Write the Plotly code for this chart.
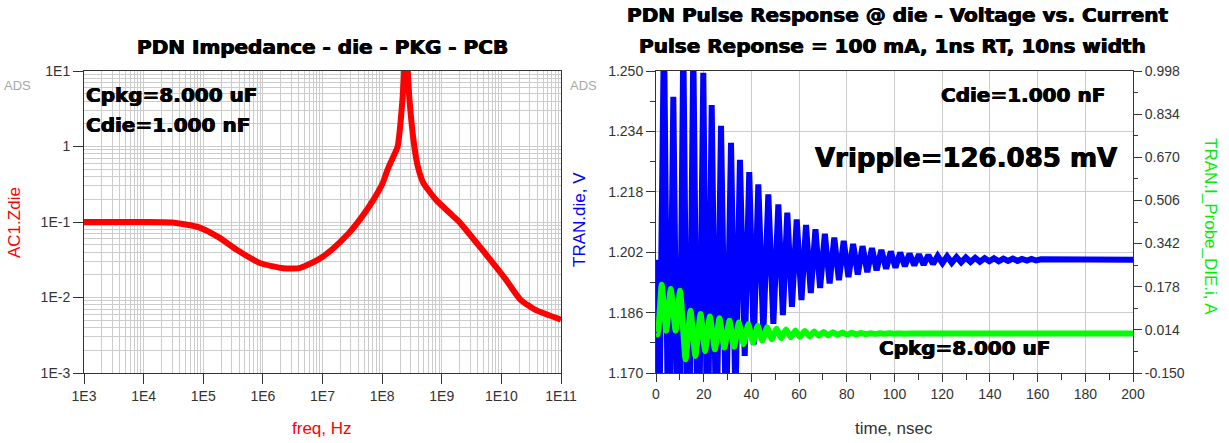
import plotly.graph_objects as go

# ---------------- data ----------------
# Left: PDN impedance |Z| at die vs frequency
red_f = [1e3, 1e4, 3.0e4, 8.5e4, 1.8e5, 3.7e5, 9.1e5, 2.2e6, 4.0e6, 8.3e6, 1.41e7, 2.75e7,
         4.57e7, 7.08e7, 1.02e8, 1.23e8, 1.45e8, 1.82e8, 2.19e8, 2.34e8, 2.51e8, 2.69e8, 2.88e8,
         3.47e8, 3.98e8, 4.9e8, 6.3e8, 8.1e8, 1.58e9, 1.95e9, 4.8e9, 1.15e10, 2.1e10, 3.8e10, 1e11]
red_z = [0.1, 0.1, 0.0985, 0.085, 0.063, 0.0426, 0.0284, 0.0244, 0.0245, 0.0314, 0.0426, 0.071,
         0.117, 0.195, 0.326, 0.49, 0.66, 1.0, 4.1, 10.0, 30.0, 10.0, 4.1,
         1.0, 0.54, 0.33, 0.25, 0.195, 0.118, 0.101, 0.0426, 0.0179, 0.0093, 0.0068, 0.0051]

# Right: die voltage (V) - successive peaks / troughs
blue_pts = [
    (0.0, 1.2000), (1.2, 1.145), (3.35, 1.262), (5.3, 1.135), (7.26, 1.2432), (9.4, 1.125),
    (11.45, 1.258), (13.5, 1.125), (15.64, 1.256), (17.7, 1.132), (19.83, 1.2495), (21.6, 1.140),
    (23.35, 1.2410), (25.3, 1.148), (27.25, 1.2355), (29.35, 1.155), (31.45, 1.2310), (33.3, 1.162),
    (35.2, 1.2265), (37.2, 1.1745), (39.1, 1.2232), (41.0, 1.1775), (42.9, 1.2200), (45.0, 1.1805),
    (47.1, 1.2173), (49.2, 1.1830), (51.3, 1.2147), (53.2, 1.1853), (55.05, 1.2125), (57.0, 1.1875),
    (59.0, 1.2107), (61.0, 1.1893), (62.9, 1.2092), (64.9, 1.1912), (66.85, 1.2081), (68.8, 1.1925),
    (70.8, 1.2069), (72.8, 1.1937), (74.75, 1.2059), (76.7, 1.1946), (78.7, 1.2050), (80.7, 1.1954),
    (82.65, 1.2042), (84.6, 1.1961), (86.6, 1.2036), (88.6, 1.1967), (90.55, 1.2031), (92.5, 1.1972),
    (94.5, 1.2026), (96.5, 1.1976), (98.45, 1.2022), (100.4, 1.1979), (102.4, 1.2019), (104.35, 1.1983),
    (106.3, 1.2016), (108.3, 1.1985), (110.25, 1.2014), (112.2, 1.1987), (114.2, 1.2012), (116.15, 1.1989),
    (118.1, 1.2010), (120.1, 1.1991), (122.05, 1.2009), (124.0, 1.1992), (126.0, 1.2007), (127.95, 1.1993),
    (129.9, 1.2006), (131.9, 1.1994), (133.85, 1.2005), (135.8, 1.1995), (137.8, 1.2004), (139.75, 1.1996),
    (141.7, 1.2004), (143.7, 1.1996), (145.65, 1.2003), (147.6, 1.1997), (149.6, 1.2003), (151.55, 1.1997),
    (153.5, 1.2002), (155.5, 1.1998), (157.45, 1.2002), (159.4, 1.1998), (161.4, 1.2001), (170.0, 1.2000),
    (200.0, 1.2000),
]
blue_t = [p[0] for p in blue_pts]
blue_v = [p[1] for p in blue_pts]

# Right: die probe current (A) - successive peaks / troughs
green_pts = [
    (0.0, 0.000), (0.7, -0.004), (2.4, 0.185), (4.3, 0.011), (6.2, 0.169), (8.2, 0.011), (10.1, 0.163),
    (12.4, -0.098), (14.5, 0.087), (16.5, -0.085), (18.7, 0.074), (20.6, -0.066), (22.6, 0.065),
    (24.7, -0.060), (26.6, 0.058), (28.7, -0.053), (30.8, 0.0485), (32.8, -0.050), (34.75, 0.042),
    (36.7, -0.0405), (38.7, 0.0355), (40.7, -0.034), (42.65, 0.0295), (44.6, -0.0275), (46.6, 0.024),
    (48.6, -0.022), (50.55, 0.0185), (52.5, -0.018), (54.5, 0.015), (56.5, -0.0145), (58.45, 0.012),
    (60.4, -0.0125), (62.4, 0.0095), (64.4, -0.010), (66.3, 0.0075), (68.3, -0.008), (70.25, 0.006),
    (72.2, -0.0065), (74.2, 0.0045), (76.2, -0.005), (78.1, 0.0035), (80.1, -0.004), (82.05, 0.0027),
    (84.0, -0.003), (86.0, 0.002), (88.0, -0.0022), (89.9, 0.0015), (91.9, -0.0016), (93.85, 0.001),
    (95.8, -0.0011), (97.8, 0.0007), (99.8, -0.0007), (101.7, 0.0004), (103.7, -0.0004), (110.0, 0.0),
    (200.0, 0.0),
]
green_t = [p[0] for p in green_pts]
green_i = [p[1] for p in green_pts]

# tick definitions
zx_vals = [1e3, 1e4, 1e5, 1e6, 1e7, 1e8, 1e9, 1e10, 1e11]
zx_text = ["1E3", "1E4", "1E5", "1E6", "1E7", "1E8", "1E9", "1E10", "1E11"]
zy_vals = [1e-3, 1e-2, 1e-1, 1, 10]
zy_text = ["1E-3", "1E-2", "1E-1", "1", "1E1"]
zx_minor = [m * 10 ** d for d in range(3, 11) for m in range(2, 10)]
zy_minor = [m * 10.0 ** d for d in range(-3, 1) for m in range(2, 10)]

t_vals = [0, 20, 40, 60, 80, 100, 120, 140, 160, 180, 200]
t_minor = [10, 30, 50, 70, 90, 110, 130, 150, 170, 190]
v_vals = [1.170, 1.186, 1.202, 1.218, 1.234, 1.250]
v_minor = [1.178, 1.194, 1.210, 1.226, 1.242]
i_vals = [-0.150, 0.014, 0.178, 0.342, 0.506, 0.670, 0.834, 0.998]
i_minor = [-0.068, 0.096, 0.260, 0.424, 0.588, 0.752, 0.916]

# ---------------- layout helpers ----------------
W, H = 1229, 443
def px(x):
    return x / W
def py(y):
    return 1 - y / H

AX = "#333333"
GRID = "#cccccc"
TICKFONT = dict(family="Liberation Sans, Arial, sans-serif", size=14, color="#333333")
BOLD = dict(family="DejaVu Sans, sans-serif", size=20, color="black", weight="bold",
            shadow="0.5px 0px 0px #000, -0.5px 0px 0px #000")

fig = go.Figure()
fig.add_trace(go.Scatter(x=red_f, y=red_z, mode="lines", xaxis="x", yaxis="y",
                         line=dict(color="#ff0000", width=6, shape="spline", smoothing=0.5),
                         showlegend=False, hoverinfo="skip"))
fig.add_trace(go.Scatter(x=blue_t, y=blue_v, mode="lines", xaxis="x2", yaxis="y2",
                         line=dict(color="#0000ff", width=6, shape="linear"),
                         showlegend=False, hoverinfo="skip"))
fig.add_trace(go.Scatter(x=green_t, y=green_i, mode="lines", xaxis="x2", yaxis="y3",
                         line=dict(color="#00ff00", width=6, shape="spline", smoothing=0.4),
                         showlegend=False, hoverinfo="skip"))

ydom = [py(373), py(71)]
common = dict(showline=True, linecolor=AX, linewidth=1, tickcolor=AX, tickfont=TICKFONT,
              zeroline=False, fixedrange=True, ticks="outside", automargin=False)

fig.update_layout(
    width=W, height=H, margin=dict(l=0, r=0, t=0, b=0, autoexpand=False),
    paper_bgcolor="white", plot_bgcolor="white", showlegend=False,
    xaxis=dict(type="log", domain=[px(84), px(561)], range=[3, 11], anchor="y",
               tickmode="array", tickvals=zx_vals, ticktext=zx_text, ticklen=10,
               mirror=True, showgrid=True, gridcolor=GRID, gridwidth=1,
               minor=dict(tickvals=zx_minor, showgrid=True, gridcolor=GRID, ticks=""), **common),
    yaxis=dict(type="log", domain=ydom, range=[-3, 1], anchor="x",
               tickmode="array", tickvals=zy_vals, ticktext=zy_text, ticklen=10,
               mirror=True, showgrid=True, gridcolor=GRID, gridwidth=1,
               minor=dict(tickvals=zy_minor, showgrid=True, gridcolor=GRID, ticks=""), **common),
    xaxis2=dict(domain=[px(656), px(1133)], range=[0, 200], anchor="y2",
                tickmode="array", tickvals=t_vals, ticktext=[str(v) for v in t_vals], ticklen=8,
                mirror=True, showgrid=True, gridcolor=GRID,
                minor=dict(tickvals=t_minor, ticks="outside", ticklen=6, tickcolor=AX, showgrid=False),
                **common),
    yaxis2=dict(domain=ydom, range=[1.170, 1.250], anchor="x2",
                tickmode="array", tickvals=v_vals, ticktext=["%.3f" % v for v in v_vals], ticklen=9,
                showgrid=True, gridcolor=GRID,
                minor=dict(tickvals=v_minor, ticks="outside", ticklen=5, tickcolor=AX, showgrid=False),
                **common),
    yaxis3=dict(domain=ydom, range=[-0.150, 0.998], anchor="x2", overlaying="y2", side="right",
                tickmode="array", tickvals=i_vals, ticktext=["%.3f" % v for v in i_vals], ticklen=8,
                showgrid=False,
                minor=dict(tickvals=i_minor, ticks="outside", ticklen=4, tickcolor=AX, showgrid=False),
                **common),
)

ann = []
def add(text, x, y, font, xanchor="center", yanchor="middle", angle=0):
    ann.append(dict(text=text, x=px(x), y=py(y), xref="paper", yref="paper", showarrow=False,
                    xanchor=xanchor, yanchor=yanchor, font=font, textangle=angle))

add("PDN Impedance - die - PKG - PCB", 322, 47, BOLD)
add("PDN Pulse Response @ die - Voltage vs. Current", 898, 15, BOLD)
add("Pulse Reponse = 100 mA, 1ns RT, 10ns width", 892, 46, BOLD)
add("Cpkg=8.000 uF", 84, 95, BOLD, xanchor="left")
add("Cdie=1.000 nF", 84, 125, BOLD, xanchor="left")
add("Cdie=1.000 nF", 1107, 95, BOLD, xanchor="right")
add("Vripple=126.085 mV", 966, 158, dict(BOLD, size=26))
add("Cpkg=8.000 uF", 877, 348, BOLD, xanchor="left")

gray = dict(family="Liberation Sans, Arial, sans-serif", size=13, color="#a8a8a8")
add("ADS", 17, 85, gray)
add("ADS", 583, 85, gray)

lab = dict(family="Liberation Sans, Arial, sans-serif", size=17)
add("AC1.Zdie", 15, 223, dict(lab, color="#ff0000"), angle=-90)
add("freq, Hz", 322, 428, dict(lab, color="#ff0000"))
add("TRAN.die, V", 580, 220, dict(lab, color="#0000ff"), angle=-90)
add("TRAN.I_Probe_DIE.i, A", 1210, 226, dict(lab, color="#00ee00"), angle=90)
add("time, nsec", 894, 428, dict(lab, color="#333333"))

fig.update_layout(annotations=ann)
fig.write_html("out.html")
